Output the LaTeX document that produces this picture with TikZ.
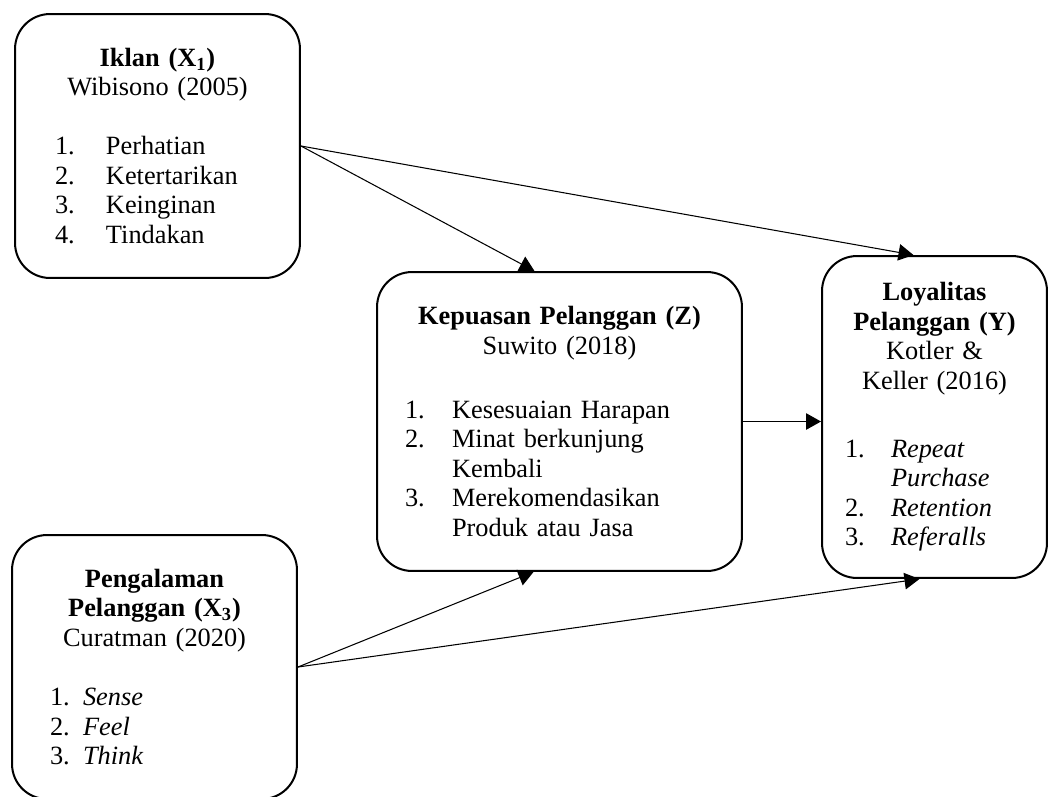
\documentclass[tikz,border=0pt]{standalone}
\usepackage{fontspec}
\setmainfont{Liberation Serif}
\usetikzlibrary{positioning,arrows.meta,calc}

\newlength{\listind}
\newcommand{\boxhead}[2][0pt]{{\centering #2\par}\vskip\dimexpr\baselineskip+#1\relax}
\newcommand{\listitem}[2]{\par\noindent\hangindent=\listind\makebox[\listind][l]{#1.}#2}
\newcommand{\contline}[1]{\par\noindent\hspace*{\listind}#1}

\begin{document}
\begin{tikzpicture}[
  x=0.02cm, y=-0.02cm,
  font=\fontsize{15}{16.8}\selectfont,
  varbox/.style={
    draw=black, fill=white, line width=1.15pt, rounded corners=0.7cm,
    align=left, inner ysep=0pt,
  },
  ind/.style={execute at begin node={\setlength{\listind}{#1}}},
  arrow/.style={-{Triangle[length=3mm, width=3.3mm]}, line width=0.6pt, draw=black},
]

\useasboundingbox (0,0) rectangle (1049,796);

% ============================================================
% LEFT COLUMN: independent variables
% ============================================================

\node[varbox, minimum width=5.7cm, minimum height=5.28cm, inner xsep=0.8cm,
      text width=4.1cm, ind=1.02cm] (iklan) at (157.5,146) {%
  \boxhead{\textbf{Iklan (X\textsubscript{1})}\\Wibisono (2005)}%
  \listitem{1}{Perhatian}
  \listitem{2}{Ketertarikan}
  \listitem{3}{Keinginan}
  \listitem{4}{Tindakan}};

\node[varbox, minimum width=5.7cm, minimum height=5.28cm, inner xsep=0.76cm,
      text width=4.18cm, ind=0.66cm] (pengalaman) at (154.5,667) {%
  \boxhead{\textbf{Pengalaman}\\\textbf{Pelanggan (X\textsubscript{3})}\\Curatman (2020)}%
  \listitem{1}{\textit{Sense}}
  \listitem{2}{\textit{Feel}}
  \listitem{3}{\textit{Think}}};

% ============================================================
% MIDDLE: intervening variable
% ============================================================

\node[varbox, minimum width=7.3cm, minimum height=5.98cm, inner xsep=0.56cm,
      text width=6.18cm, ind=0.94cm] (kepuasan) at (559.5,421.5) {%
  \boxhead[0.1cm]{\textbf{Kepuasan Pelanggan (Z)}\\Suwito (2018)}%
  \listitem{1}{Kesesuaian Harapan}
  \listitem{2}{Minat berkunjung}
  \contline{Kembali}
  \listitem{3}{Merekomendasikan}
  \contline{Produk atau Jasa}};

% ============================================================
% RIGHT: dependent variable
% ============================================================

\node[varbox, minimum width=4.5cm, minimum height=6.44cm, inner xsep=0.46cm,
      text width=3.58cm, ind=0.92cm] (loyal) at (934.5,417) {%
  \boxhead[0.18cm]{\textbf{Loyalitas}\\\textbf{Pelanggan (Y)}\\Kotler \&\\Keller (2016)}%
  \listitem{1}{\textit{Repeat}}
  \contline{\textit{Purchase}}
  \listitem{2}{\textit{Retention}}
  \listitem{3}{\textit{Referalls}}};

% Paths
\draw[arrow] (iklan.east) -- ($(kepuasan.north)+(-25,0)$);
\draw[arrow] (iklan.east) -- ($(loyal.north)+(-21,0)$);
\draw[arrow] (kepuasan.east) -- (kepuasan.east -| loyal.west);
\draw[arrow] (pengalaman.east) -- ($(kepuasan.south)+(-26,0)$);
\draw[arrow] (pengalaman.east) -- ($(loyal.south)+(-15,0)$);

\end{tikzpicture}
\end{document}
